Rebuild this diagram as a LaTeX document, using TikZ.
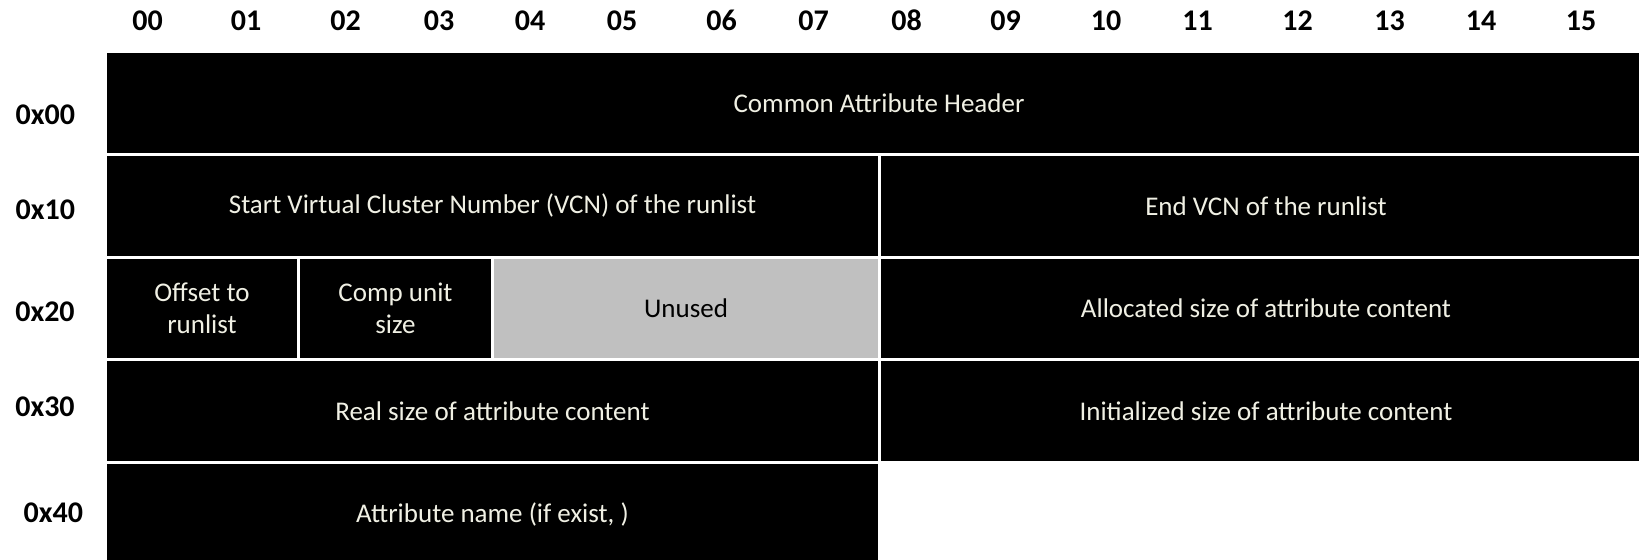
\documentclass[tikz,border=0pt]{standalone}
\usepackage{fontspec}
\setmainfont{Carlito}
\usepackage{tikz}

\definecolor{celltext}{RGB}{240,240,228}
\definecolor{unusedgray}{RGB}{192,192,192}

\begin{document}
\begin{tikzpicture}[x=0.5pt,y=-0.5pt,
  cell/.style={fill=black,text=celltext,anchor=north west,inner sep=0pt,outer sep=0pt,
    minimum height=49.9pt,align=center,font=\fontsize{13.5}{15.8}\selectfont},
  cellw/.style={minimum width=#1*0.5pt},
  lbl/.style={font=\bfseries\fontsize{15}{18}\selectfont,inner sep=0pt}]
\useasboundingbox (0,0) rectangle (1639,559);
\clip (0,0) rectangle (1639,559);

% byte offsets along the top
\foreach \c/\x in {00/147.5,01/246,02/345.5,03/439,04/530,05/622,06/721.5,07/813.5,
                   08/906.5,09/1005.6,10/1106,11/1197.5,12/1297.5,13/1389.5,14/1481,15/1581} {
  \node[lbl] (col\c) at (\x,20.5) {\c};
}
% row offsets
\foreach \r/\x/\y in {00/45.3/114.5,10/45.3/210,20/45/311.5,30/45/407,40/53.3/512.5} {
  \node[lbl] (row\r) at (\x,\y) {0x\r};
}

% attribute fields
\node[cell,cellw=1544] (common) at (107,53) {Common Attribute Header};
\node[cell,cellw=771] (startvcn) at (107,156) {Start Virtual Cluster Number (VCN) of the runlist};
\node[cell,cellw=770] (endvcn) at (881,156) {End VCN of the runlist};
\node[cell,cellw=190] (runoff) at (107,258.6) {Offset to\\runlist};
\node[cell,cellw=191] (compunit) at (300,258.6) {Comp unit\\size};
\node[cell,cellw=384,fill=unusedgray,text=black] (unused) at (494,258.6) {Unused};
\node[cell,cellw=770] (allocsize) at (881,258.6) {Allocated size of attribute content};
\node[cell,cellw=771] (realsize) at (107,361.4) {Real size of attribute content};
\node[cell,cellw=770] (initsize) at (881,361.4) {Initialized size of attribute content};
\node[cell,cellw=771] (attrname) at (107,464.2) {Attribute name (if exist, )};
\end{tikzpicture}
\end{document}
